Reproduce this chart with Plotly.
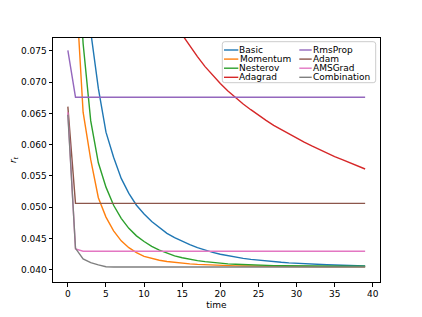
import plotly.graph_objects as go

time = list(range(40))

basic = [0.190, 0.130, 0.097, 0.0781, 0.0690, 0.0620, 0.0580, 0.0546, 0.0522, 0.0503,
         0.0489, 0.0477, 0.0467, 0.0458, 0.0451, 0.0445, 0.0440, 0.0435, 0.0431, 0.04275,
         0.04245, 0.04220, 0.04198, 0.04180, 0.04164, 0.04150, 0.04138, 0.04127, 0.04117, 0.04108,
         0.04100, 0.04093, 0.04087, 0.04082, 0.04077, 0.04073, 0.04069, 0.04065, 0.04061, 0.04058]
momentum = [0.130, 0.0863, 0.0652, 0.0576, 0.0515, 0.0484, 0.0462, 0.0446, 0.0435, 0.0427,
            0.0421, 0.04175, 0.04150, 0.04130, 0.04115, 0.04102, 0.04092, 0.04084, 0.04077, 0.04071,
            0.04066, 0.04062, 0.04059, 0.04056, 0.04054, 0.04052, 0.04050, 0.04049, 0.04048, 0.04047,
            0.04046, 0.04046, 0.04045, 0.04045, 0.04045, 0.04044, 0.04044, 0.04044, 0.04044, 0.04044]
nesterov = [0.150, 0.0960, 0.0762, 0.0638, 0.0571, 0.0532, 0.0503, 0.0482, 0.0466, 0.0454,
            0.0445, 0.0437, 0.0431, 0.04262, 0.04220, 0.04190, 0.04164, 0.04143, 0.04127, 0.04113,
            0.04100, 0.04092, 0.04085, 0.04079, 0.04074, 0.04070, 0.04066, 0.04063, 0.04061, 0.04059,
            0.04058, 0.04057, 0.04056, 0.04056, 0.04055, 0.04055, 0.04054, 0.04054, 0.04054, 0.04053]
adagrad = [0.170, 0.150, 0.136, 0.126, 0.118, 0.111, 0.1055, 0.1007, 0.0965, 0.0928,
           0.0895, 0.0866, 0.0840, 0.0816, 0.0795, 0.0776, 0.0758, 0.0741, 0.0725, 0.0711,
           0.0698, 0.0686, 0.0675, 0.0665, 0.0656, 0.0647, 0.0639, 0.0631, 0.0624, 0.0617,
           0.0610, 0.0604, 0.0598, 0.0592, 0.0587, 0.0581, 0.0576, 0.0571, 0.0566, 0.0561]
rmsprop = [0.0751] + [0.0676] * 39
adam = [0.0661] + [0.0506] * 39
amsgrad = [0.0652, 0.0433] + [0.04293] * 38
combination = [0.0648, 0.0434, 0.0417, 0.0411, 0.04075, 0.04045] + [0.04042] * 34

names = ["Basic", "Momentum", "Nesterov", "Adagrad", "RmsProp", "Adam", "AMSGrad", "Combination"]
series = [basic, momentum, nesterov, adagrad, rmsprop, adam, amsgrad, combination]
colors = ["#1f77b4", "#ff7f0e", "#2ca02c", "#d62728", "#9467bd", "#8c564b", "#e377c2", "#7f7f7f"]

x_ticks = [0, 5, 10, 15, 20, 25, 30, 35, 40]
y_ticks = [0.040, 0.045, 0.050, 0.055, 0.060, 0.065, 0.070, 0.075]

FONT = "DejaVu Sans"
# page offset of the html body (default 8px margin)
OFF = 8
W, H = 422 - OFF, 317 - OFF
# plot area in page pixels: x 53..380, y 38..282
PL, PR, PT, PB = 53, 380, 38, 282
L, T = PL - OFF, PT - OFF
R, B = W - (PR - OFF), H - (PB - OFF)
PW, PH = PR - PL, PB - PT

fig = go.Figure()
for name, ys, c in zip(names, series, colors):
    fig.add_trace(go.Scatter(x=time, y=ys, mode="lines", name=name,
                             line=dict(color=c, width=1.4), showlegend=False))

def px(xp):
    return (xp - PL) / PW

def py(yp):
    return (PB - yp) / PH

# legend frame (page pixel geometry)
x0, x1 = px(222.3), px(375.7)
y0, y1 = py(82.7), py(41.7)
rx, ry = 2.5 / PW, 2.5 / PH
path = (f"M{x0+rx},{y0} L{x1-rx},{y0} Q{x1},{y0} {x1},{y0+ry} L{x1},{y1-ry} "
        f"Q{x1},{y1} {x1-rx},{y1} L{x0+rx},{y1} Q{x0},{y1} {x0},{y1-ry} "
        f"L{x0},{y0+ry} Q{x0},{y0} {x0+rx},{y0} Z")
shapes = [dict(type="path", path=path, xref="paper", yref="paper",
               fillcolor="rgba(255,255,255,0.8)", line=dict(color="#cccccc", width=1),
               layer="above")]
annotations = []
rows = [50.0, 59.1, 68.2, 77.3]
cols = [(224.0, 238.3, 237.5), (299.3, 311.7, 311.0)]
for i, (name, c) in enumerate(zip(names, colors)):
    col, row = divmod(i, 4)
    lx0, lx1, tx = cols[col]
    yy = py(rows[row])
    shapes.append(dict(type="line", xref="paper", yref="paper", x0=px(lx0), x1=px(lx1),
                       y0=yy, y1=yy, line=dict(color=c, width=1.4), layer="above"))
    annotations.append(dict(text=name, xref="paper", yref="paper", x=px(tx), y=yy,
                            xanchor="left", yanchor="middle", showarrow=False,
                            font=dict(family=FONT, size=9, color="black")))

axis_common = dict(showgrid=False, zeroline=False, showline=True, linecolor="black",
                   linewidth=1, mirror=True, ticks="outside", ticklen=3.5, tickwidth=1,
                   tickcolor="black", tickfont=dict(family=FONT, size=9, color="black"))

fig.update_layout(
    width=W, height=H, margin=dict(l=L, r=R, t=T, b=B, pad=0, autoexpand=False),
    paper_bgcolor="white", plot_bgcolor="white",
    font=dict(family=FONT, size=9, color="black"),
    xaxis=dict(range=[-1.95, 40.95], tickmode="array", tickvals=x_ticks,
               ticktext=[str(v) for v in x_ticks],
               title=dict(text="time", font=dict(family=FONT, size=9), standoff=3),
               **axis_common),
    yaxis=dict(range=[0.03801, 0.07708], tickmode="array", tickvals=y_ticks,
               ticktext=[f"{v:.3f}" for v in y_ticks],
               title=dict(text="<i>r</i><sub><i>t</i></sub>", font=dict(family=FONT, size=9), standoff=4),
               **axis_common),
    shapes=shapes, annotations=annotations, showlegend=False,
)

fig.write_html("out.html")
